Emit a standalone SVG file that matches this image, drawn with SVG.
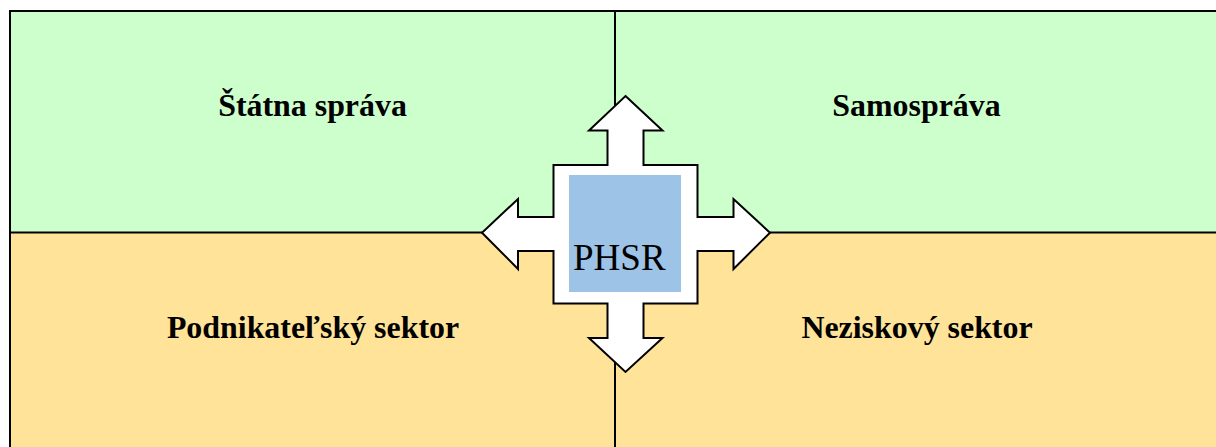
<svg xmlns="http://www.w3.org/2000/svg" width="1216" height="447" viewBox="0 0 1216 447">
<style>
.l{font-family:"Liberation Serif","Times New Roman",serif;font-weight:bold;font-size:31.900px;fill:#000;text-anchor:middle}
.g{fill:#ccffcc}.o{fill:#ffe399}
.c{stroke:#000;stroke-width:2;fill:none}
</style>
<rect width="1216" height="447" fill="#fff"/>
<g id="statna"><rect class="g" x="10" y="11" width="605" height="222"/><text class="l" x="312.500" y="115.500">Štátna správa</text></g>
<g id="samosprava"><rect class="g" x="615" y="11" width="601" height="222"/><text class="l" x="916.500" y="115.500">Samospráva</text></g>
<g id="podnikatelsky"><rect class="o" x="10" y="233" width="605" height="214"/><text class="l" x="313" y="337.500">Podnikateľský sektor</text></g>
<g id="neziskovy"><rect class="o" x="615" y="233" width="601" height="214"/><text class="l" x="917" y="337.500">Neziskový sektor</text></g>
<g id="connectors"><path class="c" d="M10 447V11H1216M10 232.500H1216M615 11V447"/></g>
<g id="phsr">
<path d="M625.500 96L662.500 130.500H643.500V165H697.500V217H733.500V199L770 232.700L733.500 269V251H697.500V303.500H643.500V338H662.500L625.500 372L589 338H607.500V303.500H553.500V251H518V269L482 232.700L518 199V217H553.500V165H607.500V130.500H589Z" fill="#fff" stroke="#000" stroke-width="2"/>
<rect x="569" y="175" width="112" height="117" fill="#9dc3e6"/>
<text x="573" y="270" font-family="'Liberation Serif','Times New Roman',serif" font-size="37" fill="#000">PHSR</text>
</g>
</svg>
